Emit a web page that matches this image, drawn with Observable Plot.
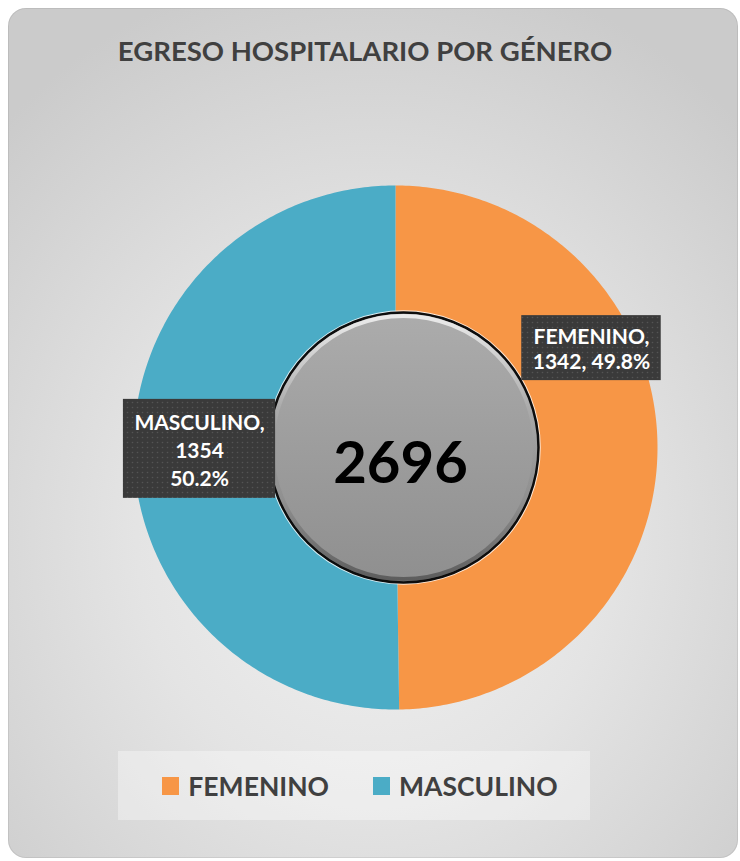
<!DOCTYPE html>
<html><head><meta charset="utf-8">
<script src="https://cdn.jsdelivr.net/npm/d3@7"></script>
<script src="https://cdn.jsdelivr.net/npm/@observablehq/plot@0.6"></script>
<style>
html,body{margin:0;padding:0;background:#fff;}
#wrap{position:relative;width:740px;height:861px;overflow:hidden;font-family:Lato,"Open Sans",sans-serif;}
#card{position:absolute;left:8px;top:8px;width:730px;height:850px;border-radius:18px;
 background:radial-gradient(ellipse 72% 68% at 50% 62%, #f2f2f2 0%, #e4e4e4 45%, #cbcbcb 100%);
 box-shadow: inset 0 0 0 1px rgba(0,0,0,0.07);}
#title{position:absolute;left:0;width:730px;top:34px;text-align:center;font-size:27.5px;font-weight:700;color:#404040;}
#chart{position:absolute;left:0;top:0;}
#legend{position:absolute;left:118px;top:751px;width:460px;padding-left:12px;height:69px;background:rgba(255,255,255,0.35);
 display:flex;align-items:center;justify-content:center;gap:44px;}
.item{display:flex;align-items:center;gap:9px;font-size:26.5px;font-weight:700;color:#404040;}
.sw{width:17px;height:18px;display:inline-block;}
</style></head>
<body><div id="wrap"><div id="card"></div><div id="title"></div><div id="chart"></div><div id="legend"></div></div>
<script>
// ---- data ----
const title = "EGRESO HOSPITALARIO POR GÉNERO";
const categories = ["FEMENINO", "MASCULINO"];
const values = [1342, 1354];
const colors = ["#F79646", "#4BACC6"];
const labelSeparators = [", ", "\n"];   // how value and percent are joined in each data label

// ---- layout ----
const W = 740, H = 861;
const cx = 395, cy = 447, rOuter = 262, rInner = 125;
const sx = 403, sy = 447, sR = 135;
const labelR = 196, labelShift = [-98, 0], labelLH = [25, 28];
const labelFont = 21, labelPadX = 11, labelPadY = 15;

const total = d3.sum(values);
const rows = categories.map((c, i) => ({category: c, value: values[i], color: colors[i], i}));
const arcs = d3.pie().sort(null).value(d => d.value)(rows);

// ring-sector outlines sampled along the arc angles from d3.pie
const outline = [];
arcs.forEach(a => {
  const n = 240;
  for (let k = 0; k <= n; k++) {
    const t = a.startAngle + (a.endAngle - a.startAngle) * k / n;
    outline.push({category: a.data.category, px: cx + rOuter * Math.sin(t), py: cy - rOuter * Math.cos(t)});
  }
  for (let k = n; k >= 0; k--) {
    const t = a.startAngle + (a.endAngle - a.startAngle) * k / n;
    outline.push({category: a.data.category, px: cx + rInner * Math.sin(t), py: cy - rInner * Math.cos(t)});
  }
});

const ctx = document.createElement("canvas").getContext("2d");
ctx.font = `bold ${labelFont}px Lato`;
const fmtPct = d3.format(".1%");
const labels = arcs.map(a => {
  const mid = (a.startAngle + a.endAngle) / 2;
  const i = a.data.i;
  const text = `${a.data.category},\n${a.data.value}${labelSeparators[i]}${fmtPct(a.data.value / total)}`;
  const ls = text.split("\n");
  const lx = cx + labelR * Math.sin(mid), ly = cy - labelR * Math.cos(mid) + labelShift[i];
  const w = d3.max(ls, s => ctx.measureText(s).width) + 2 * labelPadX;
  const h = ls.length * labelLH[i] + labelPadY;
  return {i, text, lx, ly, x1: lx - w / 2, x2: lx + w / 2, y1: ly - h / 2, y2: ly + h / 2};
});

const svg = Plot.plot({
  width: W, height: H, margin: 0,
  x: {domain: [0, W], range: [0, W], axis: null},
  y: {domain: [0, H], range: [0, H], axis: null},
  color: {domain: categories, range: colors},
  style: {background: "transparent", fontFamily: "Lato, 'Open Sans', sans-serif", overflow: "visible"},
  marks: [
    Plot.line(outline, {x: "px", y: "py", z: "category", fill: "category", stroke: "none", curve: "linear-closed"}),
    Plot.dot([total], {x: () => sx, y: () => sy, r: sR + 1.5, fill: "none", stroke: "#ffffff", strokeOpacity: 0.8, strokeWidth: 1.5}),
    Plot.dot([total], {x: () => sx, y: () => sy, r: sR, fill: "url(#sphereFill)", stroke: "#0d0d0d", strokeWidth: 2.5, ariaLabel: "sphere"}),
    Plot.dot([total], {x: () => sx, y: () => sy, r: sR - 3.5, fill: "none", stroke: "url(#bevel)", strokeWidth: 4}),
    Plot.text([total], {x: () => sx - 3, y: () => sy + 17, text: d => String(d), fontSize: 58, fontWeight: "bold", fill: "#000"}),
    Plot.rect(labels, {x1: "x1", x2: "x2", y1: "y1", y2: "y2", fill: "url(#dots)", ariaLabel: "labelbox"}),
    Plot.text(labels.filter(d => d.i === 0), {x: "lx", y: "ly", text: "text", fill: "#fff", fontSize: labelFont, fontWeight: "bold", lineHeight: labelLH[0] / labelFont}),
    Plot.text(labels.filter(d => d.i === 1), {x: "lx", y: "ly", text: "text", fill: "#fff", fontSize: labelFont, fontWeight: "bold", lineHeight: labelLH[1] / labelFont})
  ]
});

const s = d3.select(svg);
s.insert("defs", ":first-child").html(`
  <pattern id="dots" width="5" height="5" patternUnits="userSpaceOnUse">
    <rect width="5" height="5" fill="#3a3a3a"/>
    <circle cx="2.5" cy="2.5" r="0.8" fill="#545454"/>
  </pattern>
  <filter id="boxShadow" x="-20%" y="-20%" width="140%" height="150%">
    <feDropShadow dx="3" dy="4" stdDeviation="2.5" flood-color="#000" flood-opacity="0.45"/>
  </filter>
  <filter id="sphShadow" x="-20%" y="-20%" width="140%" height="140%">
    <feDropShadow dx="3" dy="3" stdDeviation="3" flood-color="#000" flood-opacity="0.35"/>
  </filter>
  <linearGradient id="sphereFill" x1="0" y1="0" x2="0" y2="1">
    <stop offset="0" stop-color="#acacac"/>
    <stop offset="0.5" stop-color="#9d9d9d"/>
    <stop offset="1" stop-color="#8f8f8f"/>
  </linearGradient>
  <linearGradient id="bevel" x1="0" y1="0" x2="0" y2="1">
    <stop offset="0" stop-color="#ffffff" stop-opacity="0.75"/>
    <stop offset="0.35" stop-color="#ffffff" stop-opacity="0.1"/>
    <stop offset="0.7" stop-color="#000000" stop-opacity="0.05"/>
    <stop offset="1" stop-color="#000000" stop-opacity="0.35"/>
  </linearGradient>
`);
s.selectAll('g[aria-label="sphere"]').attr("filter", "url(#sphShadow)");
s.selectAll('g[aria-label="labelbox"]').attr("filter", "url(#boxShadow)");
document.getElementById("chart").appendChild(svg);
document.getElementById("title").textContent = title;

const legend = d3.select("#legend");
categories.forEach((c, i) => {
  const it = legend.append("div").attr("class", "item");
  it.append("span").attr("class", "sw").style("background", colors[i]);
  it.append("span").text(c);
});
</script>
</body></html>
